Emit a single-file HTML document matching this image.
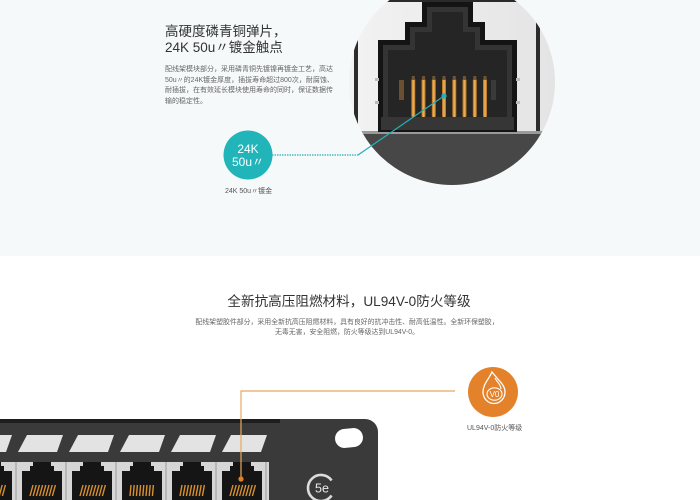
<!DOCTYPE html>
<html><head><meta charset="utf-8">
<style>
html,body{margin:0;padding:0}
body{width:700px;height:500px;position:relative;overflow:hidden;background:#fff;font-family:"Liberation Sans","Noto Sans CJK SC",sans-serif}
.t{position:absolute;white-space:nowrap}
</style></head>
<body>
<svg width="700" height="500" style="position:absolute;left:0;top:0" xmlns="http://www.w3.org/2000/svg">
<defs>
<clipPath id="c"><circle cx="452" cy="82" r="103"/></clipPath>
<linearGradient id="bgg" x1="0" x2="1" y1="0" y2="0"><stop offset="0" stop-color="#f3f3f3"/><stop offset="1" stop-color="#e3e3e3"/></linearGradient>
<linearGradient id="pin" x1="0" x2="1" y1="0" y2="0"><stop offset="0" stop-color="#a96a1c"/><stop offset="0.5" stop-color="#f4b860"/><stop offset="1" stop-color="#a96a1c"/></linearGradient>
</defs>
<rect x="0" y="0" width="700" height="256" fill="#f6f9fa"/>

<!-- big magnified circle -->
<g clip-path="url(#c)">
<rect x="340" y="-30" width="230" height="220" fill="url(#bgg)"/>
<rect x="340" y="-30" width="230" height="32" fill="#2a2a2a"/>
<rect x="354" y="-30" width="4" height="165" fill="#2c2c2c"/>
<rect x="536" y="-30" width="4" height="165" fill="#2c2c2c"/>
<rect x="340" y="131" width="230" height="3" fill="#9a9a9a"/>
<rect x="340" y="134" width="230" height="60" fill="#474747"/>
<polygon fill="#141414" points="378,132 378,40 405,40 405,22 422,22 422,2 473,2 473,22 485,22 485,40 517,40 517,132"/>
<polygon fill="#343434" points="383,127 383,45 410,45 410,27 427,27 427,7 468,7 468,27 480,27 480,45 512,45 512,127"/>
<polygon fill="#252525" points="388,118 388,50 415,50 415,32 432,32 432,12 463,12 463,32 475,32 475,50 507,50 507,118"/>
<rect x="381" y="117" width="133" height="13" fill="#363636"/>
<rect x="399" y="80" width="5" height="20" fill="#6a5030"/>
<rect x="491" y="80" width="5" height="20" fill="#3a3a3a"/>
<rect x="375" y="78" width="4" height="3" fill="#bbb"/>
<rect x="375" y="101" width="4" height="3" fill="#bbb"/>
<rect x="516" y="78" width="4" height="3" fill="#bbb"/>
<rect x="516" y="101" width="4" height="3" fill="#bbb"/>
<g fill="url(#pin)">
<rect x="411.3" y="79" width="4" height="38" rx="1"/>
<rect x="421.5" y="79" width="4" height="38" rx="1"/>
<rect x="431.8" y="79" width="4" height="38" rx="1"/>
<rect x="442" y="79" width="4" height="38" rx="1"/>
<rect x="452.3" y="79" width="4" height="38" rx="1"/>
<rect x="462.5" y="79" width="4" height="38" rx="1"/>
<rect x="472.8" y="79" width="4" height="38" rx="1"/>
<rect x="483" y="79" width="4" height="38" rx="1"/>
</g>
<g fill="#6e5533">
<rect x="411.8" y="76" width="3" height="4"/><rect x="422" y="76" width="3" height="4"/><rect x="432.3" y="76" width="3" height="4"/><rect x="442.5" y="76" width="3" height="4"/><rect x="452.8" y="76" width="3" height="4"/><rect x="463" y="76" width="3" height="4"/><rect x="473.3" y="76" width="3" height="4"/><rect x="483.5" y="76" width="3" height="4"/>
</g>
</g>

<!-- teal callout -->
<line x1="444" y1="96" x2="358" y2="155" stroke="#25b0b8" stroke-width="1.2"/>
<line x1="272" y1="155" x2="358" y2="155" stroke="#25b0b8" stroke-width="1.2" stroke-dasharray="1.5 1"/>
<circle cx="444" cy="96" r="2.6" fill="#25b0b8"/>
<circle cx="248" cy="155" r="24.5" fill="#21b4b9"/>

<!-- panel -->
<path d="M0,419 H365 A13,13 0 0 1 378,432 V500 H0 Z" fill="#3a3a3a"/>
<rect x="0" y="419" width="280" height="4" fill="#1e1e1e"/>
<g fill="#e3e3e3">
<polygon points="-33,452 -24,435 12,435 6,452"/>
<polygon points="18,452 27,435 63,435 57,452"/>
<polygon points="69,452 78,435 114,435 108,452"/>
<polygon points="120,452 129,435 165,435 159,452"/>
<polygon points="171,452 180,435 216,435 210,452"/>
<polygon points="222,452 231,435 267,435 261,452"/>
</g>
<rect x="0" y="462" width="269" height="38" fill="#d6d6d6"/>
<g stroke="#8a8a8a" stroke-width="0.8">
<line x1="16" y1="462" x2="16" y2="500"/><line x1="66" y1="462" x2="66" y2="500"/><line x1="116" y1="462" x2="116" y2="500"/><line x1="166" y1="462" x2="166" y2="500"/><line x1="216" y1="462" x2="216" y2="500"/><line x1="266" y1="462" x2="266" y2="500"/>
</g>
<g fill="#151515">
<polygon points="-28,500 -28,471 -20,471 -20,466 -17,466 -17,462 1,462 1,466 4,466 4,471 12,471 12,500"/>
<polygon points="22,500 22,471 30,471 30,466 33,466 33,462 51,462 51,466 54,466 54,471 62,471 62,500"/>
<polygon points="72,500 72,471 80,471 80,466 83,466 83,462 101,462 101,466 104,466 104,471 112,471 112,500"/>
<polygon points="122,500 122,471 130,471 130,466 133,466 133,462 151,462 151,466 154,466 154,471 162,471 162,500"/>
<polygon points="172,500 172,471 180,471 180,466 183,466 183,462 201,462 201,466 204,466 204,471 212,471 212,500"/>
<polygon points="222,500 222,471 230,471 230,466 233,466 233,462 251,462 251,466 254,466 254,471 262,471 262,500"/>
</g>
<g stroke="#d8902f" stroke-width="1.4">
<path d="M-20,496 L-17,485 M-16.8,496 L-13.8,485 M-13.6,496 L-10.6,485 M-10.4,496 L-7.4,485 M-7.2,496 L-4.2,485 M-4,496 L-1,485 M-0.8,496 L2.2,485 M2.4,496 L5.4,485"/>
<path d="M30,496 L33,485 M33.2,496 L36.2,485 M36.4,496 L39.4,485 M39.6,496 L42.6,485 M42.8,496 L45.8,485 M46,496 L49,485 M49.2,496 L52.2,485 M52.4,496 L55.4,485"/>
<path d="M80,496 L83,485 M83.2,496 L86.2,485 M86.4,496 L89.4,485 M89.6,496 L92.6,485 M92.8,496 L95.8,485 M96,496 L99,485 M99.2,496 L102.2,485 M102.4,496 L105.4,485"/>
<path d="M130,496 L131,485 M133.2,496 L134.2,485 M136.4,496 L137.4,485 M139.6,496 L140.6,485 M142.8,496 L143.8,485 M146,496 L147,485 M149.2,496 L150.2,485 M152.4,496 L153.4,485"/>
<path d="M180,496 L182,485 M183.2,496 L185.2,485 M186.4,496 L188.4,485 M189.6,496 L191.6,485 M192.8,496 L194.8,485 M196,496 L198,485 M199.2,496 L201.2,485 M202.4,496 L204.4,485"/>
<path d="M230,496 L233,485 M233.2,496 L236.2,485 M236.4,496 L239.4,485 M239.6,496 L242.6,485 M242.8,496 L245.8,485 M246,496 L249,485 M249.2,496 L252.2,485 M252.4,496 L255.4,485"/>
</g>
<rect x="335" y="428.5" width="28" height="19" rx="9.5" fill="#fff" transform="rotate(-6 349 438)"/>
<path d="M331.6,480.5 A13,13 0 1 0 331.6,495.5" stroke="#dcdcdc" stroke-width="2.6" fill="none"/>
<text x="322" y="492.5" font-size="12.5" fill="#e8e8e8" text-anchor="middle" font-family="Liberation Sans, sans-serif">5e</text>

<!-- orange callout -->
<polyline points="455,391 241,391 241,479" stroke="#e8a860" stroke-width="1.2" fill="none"/>
<circle cx="241" cy="479" r="2.6" fill="#e67e22"/>
<circle cx="493" cy="392" r="25" fill="#e4822b"/>
<path d="M492,372 C489,379 483,384 483,392 C483,398.5 488,403.5 494,403.5 C500,403.5 505,398.5 505,392 C505,385 499,381 492,372 Z" stroke="#fff" stroke-width="1.3" fill="none"/>
<path d="M495,378 C497,382 501,385 501,389" stroke="#fff" stroke-width="1.1" fill="none"/>
<ellipse cx="494.5" cy="394" rx="7.5" ry="6.2" stroke="#fff" stroke-width="1.1" fill="none"/>
<text x="494.5" y="397" font-size="8" fill="#fff" text-anchor="middle" font-family="Liberation Sans, sans-serif">V0</text>
</svg>

<div class="t" style="left:165px;top:24px;font-size:13.5px;line-height:16px;color:#333">高硬度磷青铜弹片，<br>24K 50u〃镀金触点</div>
<div class="t" style="left:165px;top:65px;font-size:7px;line-height:10.6px;color:#666">配线架模块部分，采用磷青铜先镀镍再镀金工艺，高达<br>50u〃的24K镀金厚度，插拔寿命超过800次，耐腐蚀、<br>耐插拔，在有效延长模块使用寿命的同时，保证数据传<br>输的稳定性。</div>
<div class="t" style="left:208px;top:142.5px;width:80px;text-align:center;font-size:12px;line-height:13px;color:#fff">24K<br>50u〃</div>
<div class="t" style="left:225px;top:188px;font-size:7px;line-height:8px;color:#555">24K 50u〃镀金</div>

<div class="t" style="left:0;top:294px;width:698px;text-align:center;font-size:13.6px;line-height:16px;color:#333">全新抗高压阻燃材料，UL94V-0防火等级</div>
<div class="t" style="left:0;top:318px;width:694px;text-align:center;font-size:6.9px;line-height:10px;color:#666">配线架塑胶件部分，采用全新抗高压阻燃材料，具有良好的抗冲击性、耐高低温性。全新环保塑胶，<br>无毒无害，安全阻燃，防火等级达到UL94V-0。</div>
<div class="t" style="left:467px;top:425px;font-size:7px;line-height:8px;color:#555">UL94V-0防火等级</div>
</body></html>
